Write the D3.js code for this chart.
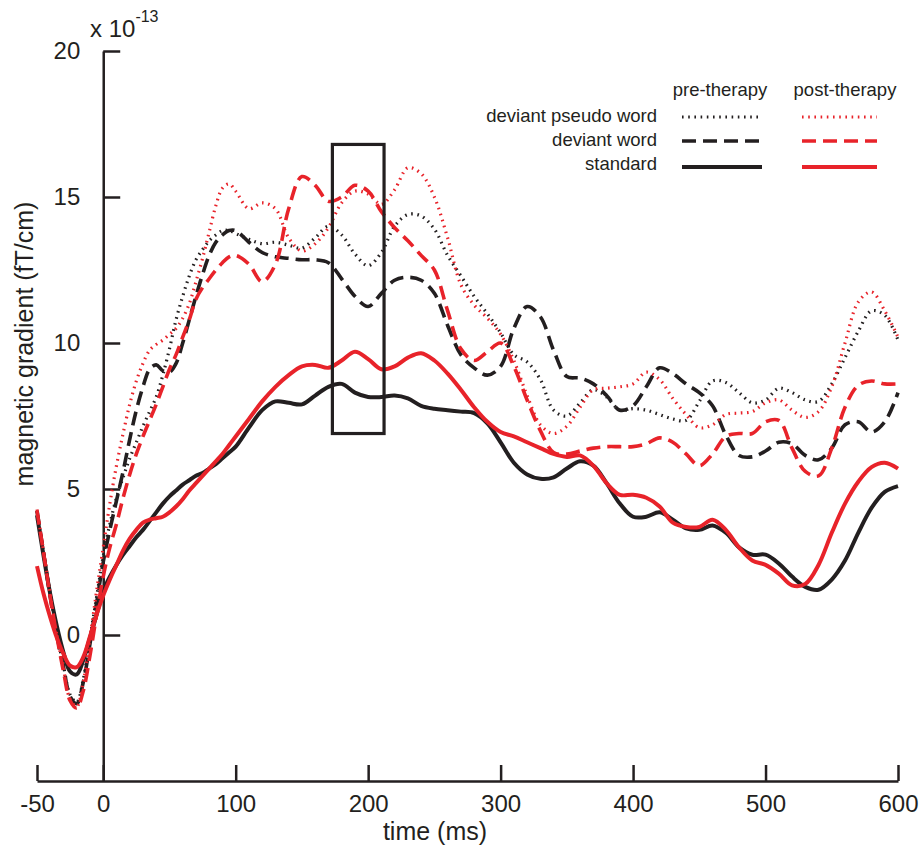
<!DOCTYPE html>
<html>
<head>
<meta charset="utf-8">
<script src="https://cdn.jsdelivr.net/npm/d3@7"></script>
<style>
  body { margin: 0; background: #fff; }
  svg text { font-family: "Liberation Sans", Arial, sans-serif; fill: #231f20; }
</style>
</head>
<body>
<script>

// time axis (ms), finer steps over the early part
const times = [-50, -45, -40, -35, -30, -25, -20, -15, -10, -5, 0, 5, 10, 15, 20, 25, 30, 35, 40, 45,
    50, 55, 60, 65, 70, 75, 80, 85, 90, 95, 100,
    110, 120, 130, 140, 150, 160, 170, 180, 190, 200, 210, 220, 230, 240, 250, 260, 270, 280, 290, 300,
    310, 320, 330, 340, 350, 360, 370, 380, 390, 400, 410, 420, 430, 440, 450, 460, 470, 480, 490, 500,
    510, 520, 530, 540, 550, 560, 570, 580, 590, 600];

// magnetic gradient, x 10^-13 fT/cm
const pseudoPre = [4.25, 2.8, 1.4, 0.05, -1.05, -2.05, -2.3, -1.5, -0.1, 1.3, 2.7, 3.8, 4.7, 5.4, 6.05, 6.6, 7.15, 7.65, 8.15, 8.9,
    9.8, 10.8, 11.6, 12.3, 12.85, 13.2, 13.5, 13.7, 13.85, 13.85, 13.75,
    13.55, 13.4, 13.45, 13.35, 13.25, 13.6, 14.0, 13.7, 13.05, 12.65, 13.1, 14.0, 14.4, 14.35, 13.9, 13.0, 12.3, 11.6, 11.0, 10.35,
    9.6, 9.35, 8.75, 7.7, 7.5, 7.95, 8.4, 8.15, 7.7, 7.75, 7.7, 7.55, 7.4, 7.35, 8.0, 8.7, 8.65, 8.3, 7.95, 8.05,
    8.45, 8.3, 8.05, 8.0, 8.6, 9.5, 10.4, 11.1, 10.95, 10.1];
const pseudoPost = [4.3, 2.85, 1.4, 0.0, -1.15, -2.2, -2.45, -1.6, -0.1, 1.5, 3.0, 4.5, 5.8, 6.9, 7.9, 8.7, 9.3, 9.75, 9.95, 10.1,
    10.3, 10.5, 10.85, 11.35, 12.1, 12.9, 13.8, 14.7, 15.3, 15.45, 15.2,
    14.6, 14.8, 14.6, 13.6, 13.15, 13.4, 13.95, 14.8, 15.2, 15.1, 14.75, 15.25, 16.0, 15.8, 15.0, 13.6, 12.0, 11.3, 10.85, 10.3,
    9.4, 8.2, 7.2, 6.9, 7.15, 7.8, 8.4, 8.45, 8.5, 8.6, 9.0, 8.75, 8.1, 7.55, 7.1, 7.2, 7.55, 7.6, 7.65, 7.95,
    8.05, 7.7, 7.45, 7.65, 8.5, 10.0, 11.4, 11.75, 11.1, 10.2];
const wordPre = [4.25, 2.8, 1.3, 0.0, -1.1, -2.1, -2.35, -1.6, -0.3, 1.1, 2.5, 3.6, 4.6, 5.6, 6.7, 7.7, 8.5, 9.1, 9.25, 9.05,
    9.0, 9.3, 10.0, 10.8, 11.6, 12.35, 13.0, 13.45, 13.7, 13.85, 13.85,
    13.45, 13.1, 12.95, 12.9, 12.85, 12.85, 12.75, 12.2, 11.6, 11.25, 11.7, 12.15, 12.25, 12.15, 11.7, 10.6, 9.6, 9.15, 8.9, 9.2,
    10.5, 11.25, 10.9, 9.75, 8.85, 8.8, 8.6, 8.2, 7.7, 7.85, 8.5, 9.15, 8.95, 8.6, 8.3, 7.85, 6.85, 6.15, 6.1, 6.3,
    6.6, 6.55, 6.15, 6.0, 6.4, 7.2, 7.3, 6.95, 7.3, 8.3];
const wordPost = [4.25, 2.8, 1.3, -0.05, -1.25, -2.25, -2.5, -1.9, -0.7, 0.7, 2.0, 3.0, 3.8, 4.7, 5.5, 6.2, 6.8, 7.35, 7.9, 8.5,
    9.1, 9.6, 10.2, 10.8, 11.5, 11.9, 12.2, 12.5, 12.75, 12.95, 13.0,
    12.7, 12.1, 12.7, 14.6, 15.7, 15.4, 14.85, 15.0, 15.4, 15.2, 14.5, 13.95, 13.5, 13.0, 12.5, 11.1, 9.8, 9.4, 9.7, 10.0,
    9.2, 8.05, 7.0, 6.25, 6.2, 6.3, 6.4, 6.45, 6.45, 6.45, 6.55, 6.75, 6.6, 6.2, 5.8, 6.2, 6.8, 6.9, 6.9, 7.3,
    7.35, 6.4, 5.6, 5.45, 6.4, 7.8, 8.55, 8.7, 8.6, 8.6];
const standardPre = [4.1, 2.7, 1.4, 0.3, -0.6, -1.25, -1.35, -0.85, -0.1, 0.7, 1.5, 2.0, 2.4, 2.75, 3.05, 3.35, 3.6, 3.9, 4.2, 4.5,
    4.75, 4.95, 5.15, 5.3, 5.45, 5.55, 5.7, 5.85, 6.05, 6.25, 6.45,
    7.1, 7.7, 8.0, 7.95, 7.9, 8.2, 8.5, 8.6, 8.3, 8.15, 8.15, 8.2, 8.1, 7.85, 7.75, 7.7, 7.65, 7.6, 7.25, 6.6,
    5.9, 5.5, 5.35, 5.4, 5.7, 5.95, 5.8, 5.2, 4.5, 4.05, 4.05, 4.2, 3.95, 3.65, 3.6, 3.75, 3.5, 3.0, 2.75, 2.75,
    2.45, 2.0, 1.65, 1.55, 1.9, 2.55, 3.5, 4.35, 4.9, 5.1];
const standardPost = [2.36, 1.4, 0.6, -0.1, -0.65, -1.05, -1.1, -0.75, -0.05, 0.7, 1.35, 1.9, 2.4, 2.9, 3.3, 3.6, 3.85, 3.95, 4.0, 4.05,
    4.2, 4.4, 4.65, 4.95, 5.2, 5.45, 5.7, 5.95, 6.2, 6.5, 6.8,
    7.4, 8.0, 8.5, 8.9, 9.2, 9.25, 9.15, 9.4, 9.7, 9.45, 9.1, 9.2, 9.5, 9.65, 9.4, 8.95, 8.4, 7.8, 7.3, 6.95,
    6.8, 6.6, 6.4, 6.2, 6.1, 6.15, 5.8, 5.2, 4.8, 4.8, 4.7, 4.4, 3.85, 3.7, 3.7, 3.95, 3.6, 3.0, 2.55, 2.4,
    2.1, 1.7, 1.75, 2.4, 3.5, 4.5, 5.25, 5.75, 5.9, 5.7];

const xTicks = [-50, 0, 100, 200, 300, 400, 500, 600];
const yTicks = [0, 5, 10, 15, 20];
const conditions = ["deviant pseudo word", "deviant word", "standard"];
const sessions = ["pre-therapy", "post-therapy"];

// highlighted window (ms) and its value span
const boxTimes = [173, 212];
const boxValues = [6.9, 16.8];

const black = "#231f20", red = "#e8232a";
const styles = {
    dotted: { dash: "1.6,4.6", width: 3.2 },
    dashed: { dash: "14,7", width: 3.6 },
    solid: { dash: null, width: 4 }
};

var width = 924, height = 855;
var svg = d3.select("body").append("svg").attr("width", width).attr("height", height);

var x = d3.scaleLinear().domain([-50, 600]).range([37, 898]);
var y = d3.scaleLinear().domain([-5, 20]).range([781, 51]);

// axes
var xAxis = svg.append("g")
    .attr("transform", "translate(0," + y(-5) + ")")
    .call(d3.axisBottom(x).tickValues(xTicks).tickSizeInner(-16).tickSizeOuter(0)
        .tickPadding(14).tickFormat(function (d) { return String(d); }));

var yAxis = svg.append("g")
    .attr("transform", "translate(" + x(0) + ",0)")
    .call(d3.axisLeft(y).tickValues(yTicks).tickSizeInner(-17).tickSizeOuter(0)
        .tickPadding(23).tickFormat(function (d) { return String(d); }));

[xAxis, yAxis].forEach(function (g) {
    g.attr("font-family", null).attr("font-size", null);
    g.selectAll("path, line").attr("stroke", black).attr("stroke-width", 2.5);
    g.selectAll("text").style("font-size", "24px").attr("fill", black);
});

// axis titles
svg.append("text")
    .attr("x", 435).attr("y", 840)
    .attr("text-anchor", "middle")
    .style("font-size", "25px")
    .text("time (ms)");

svg.append("text")
    .attr("transform", "translate(33,344) rotate(-90)")
    .attr("text-anchor", "middle")
    .style("font-size", "25px")
    .text("magnetic gradient (fT/cm)");

// exponent label
var expo = svg.append("text").attr("x", 90).attr("y", 37).style("font-size", "24px");
expo.append("tspan").text("x 10");
expo.append("tspan").attr("dy", -15).style("font-size", "16px").text("-13");

// series
var series = [
    { name: "pseudoPre", values: pseudoPre, color: black, style: "dotted" },
    { name: "wordPre", values: wordPre, color: black, style: "dashed" },
    { name: "standardPre", values: standardPre, color: black, style: "solid" },
    { name: "pseudoPost", values: pseudoPost, color: red, style: "dotted" },
    { name: "wordPost", values: wordPost, color: red, style: "dashed" },
    { name: "standardPost", values: standardPost, color: red, style: "solid" }
];

var line = d3.line()
    .x(function (d, i) { return x(times[i]); })
    .y(function (d) { return y(d); })
    .curve(d3.curveCatmullRom.alpha(0.5));

svg.append("g").selectAll("path")
    .data(series)
    .enter().append("path")
    .attr("d", function (d) { return line(d.values); })
    .attr("fill", "none")
    .attr("stroke", function (d) { return d.color; })
    .attr("stroke-width", function (d) { return styles[d.style].width; })
    .attr("stroke-dasharray", function (d) { return styles[d.style].dash; })
    .attr("stroke-linejoin", "round");

// time window box
svg.append("rect")
    .attr("x", x(boxTimes[0]))
    .attr("y", y(boxValues[1]))
    .attr("width", x(boxTimes[1]) - x(boxTimes[0]))
    .attr("height", y(boxValues[0]) - y(boxValues[1]))
    .attr("fill", "none")
    .attr("stroke", black)
    .attr("stroke-width", 3.2);

// legend
var legend = svg.append("g");
var headerX = [720, 845];
var sampleX = [[682, 762], [802, 877]];
var rowText = [122, 146, 170];
var rowLine = [117, 141, 167];
var rowStyle = ["dotted", "dashed", "solid"];

sessions.forEach(function (s, j) {
    legend.append("text")
        .attr("x", headerX[j]).attr("y", 96)
        .attr("text-anchor", "middle")
        .style("font-size", "18.5px")
        .text(s);
});

conditions.forEach(function (c, i) {
    legend.append("text")
        .attr("x", 657).attr("y", rowText[i])
        .attr("text-anchor", "end")
        .style("font-size", "18.5px")
        .text(c);
    [black, red].forEach(function (col, j) {
        legend.append("line")
            .attr("x1", sampleX[j][0]).attr("x2", sampleX[j][1])
            .attr("y1", rowLine[i]).attr("y2", rowLine[i])
            .attr("stroke", col)
            .attr("stroke-width", styles[rowStyle[i]].width)
            .attr("stroke-dasharray", styles[rowStyle[i]].dash);
    });
});

</script>
</body>
</html>
